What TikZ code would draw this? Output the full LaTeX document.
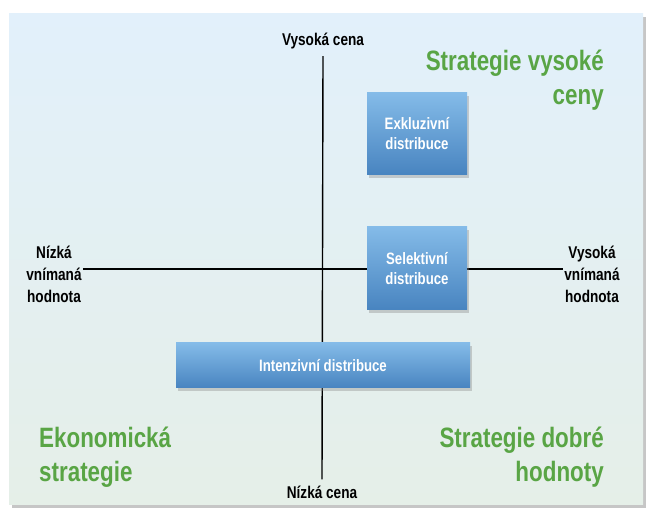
\documentclass[tikz,border=0pt]{standalone}
\usepackage{fontspec}
\setmainfont{Liberation Sans}[FakeStretch=0.80]
\usetikzlibrary{shadows}
\definecolor{paneltop}{HTML}{E2F0FB}
\definecolor{panelbot}{HTML}{E5EFE8}
\definecolor{boxtop}{HTML}{84BBE8}
\definecolor{boxbot}{HTML}{4884C0}
\definecolor{stratgreen}{HTML}{59A545}
\tikzset{
  axislabel/.style={font=\bfseries\fontsize{17}{22}\selectfont, text=black, align=center, inner sep=1pt},
  distbox/.style={draw=none, top color=boxtop, bottom color=boxbot, font=\bfseries\fontsize{16.5}{20}\selectfont, text=white, align=center,
     drop shadow={shadow xshift=2pt, shadow yshift=-3pt, opacity=0.35}},
  strat/.style={font=\bfseries\fontsize{28}{34}\selectfont, text=stratgreen, inner sep=0pt},
  axis/.style={draw=black, line width=1.4pt}
}
\begin{document}
\begin{tikzpicture}[x=1pt,y=-1pt]
\useasboundingbox (0,0) rectangle (651,518);
\fill[white] (0,0) rectangle (651,518);
\fill[gray!45] (12,17) rectangle (646,508);
\shade[top color=paneltop, bottom color=panelbot] (9,14) rectangle (643,505);
% axis labels
\node[axislabel] (top) at (323,41) {Vysoká cena};
\node[axislabel] (bot) at (322,492) {Nízká cena};
\node[axislabel] (left) at (54,274) {Nízká\\vnímaná\\hodnota};
\node[axislabel] (right) at (592,274) {Vysoká\\vnímaná\\hodnota};
\coordinate (hl) at (left.east |- 0,269);
\coordinate (hr) at (right.west |- 0,269);
% axes
\draw[axis] ([yshift=-6pt]top.south) -- ([yshift=5pt]bot.north);
\draw[axis] (hl) -- (hr);
% boxes
\node[distbox, minimum width=100pt, minimum height=82pt] (exk) at (417,134) {Exkluzivní\\distribuce};
\node[distbox, minimum width=100pt, minimum height=83pt] (sel) at (417,268.5) {Selektivní\\distribuce};
\node[distbox, minimum width=294pt, minimum height=45pt] (int) at (323,365.5) {Intenzivní distribuce};
% strategies
\node[strat, anchor=base east, align=right] (vys) at (604,105) {Strategie vysoké\\ceny};
\node[strat, anchor=base west, align=left] (eko) at (39,482) {Ekonomická\\strategie};
\node[strat, anchor=base east, align=right] (dob) at (604,482) {Strategie dobré\\hodnoty};
\end{tikzpicture}
\end{document}
